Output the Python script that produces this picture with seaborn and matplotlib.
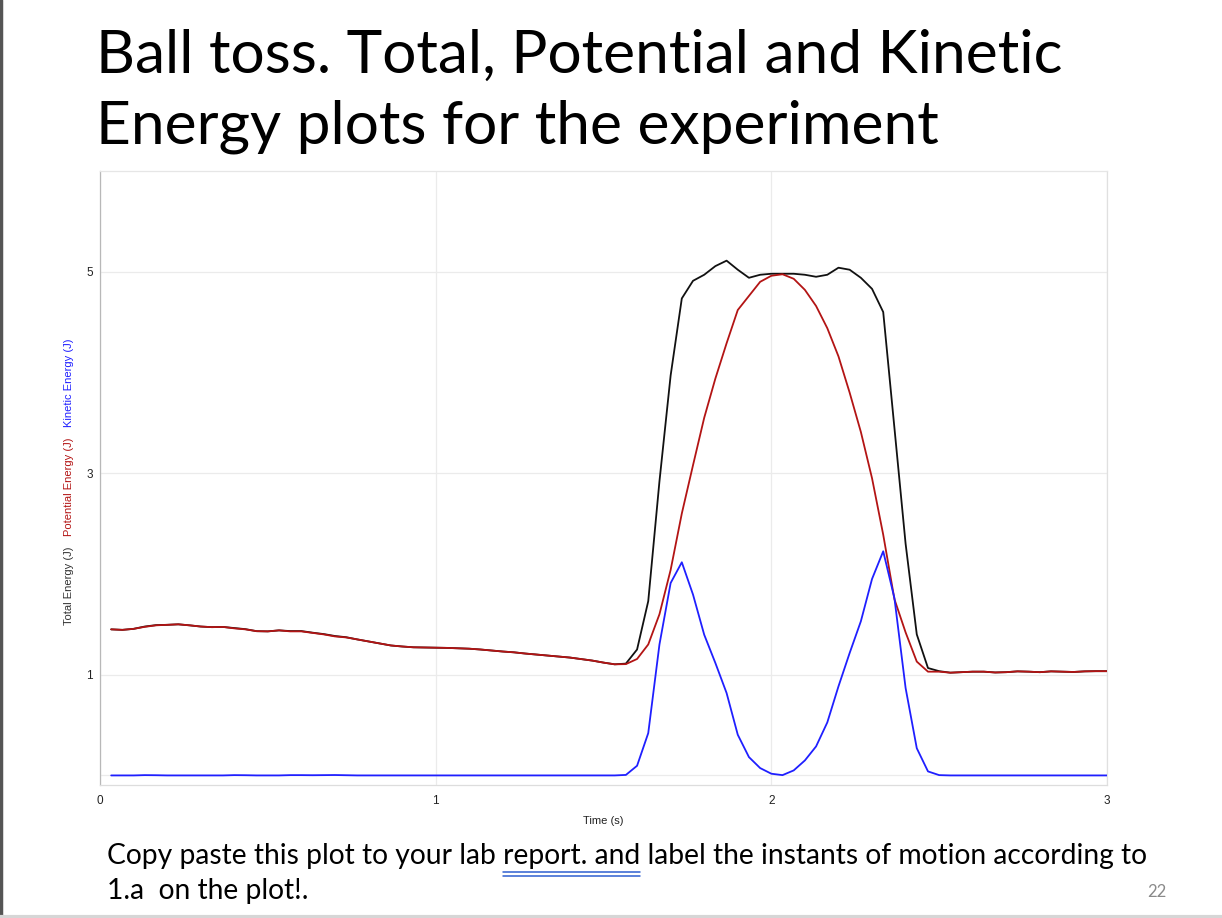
import numpy as np
import pandas as pd
import seaborn as sns
import matplotlib.pyplot as plt
from matplotlib.lines import Line2D

# samples at 30 Hz, t = 1/30 ... 3.0 s
time = np.round(np.arange(1, 91) / 30, 4)

potential = [1.45, 1.445, 1.455, 1.475, 1.49, 1.495, 1.50, 1.49, 1.478, 1.472,
             1.474, 1.46, 1.45, 1.432, 1.43, 1.44, 1.43, 1.43, 1.415, 1.40,
             1.38, 1.37, 1.35, 1.33, 1.31, 1.29, 1.28, 1.272, 1.27, 1.268,
             1.266, 1.262, 1.258, 1.25, 1.24, 1.23, 1.222, 1.21, 1.20, 1.19,
             1.18, 1.17, 1.155, 1.14, 1.12, 1.103, 1.105,
             1.156, 1.30, 1.60, 2.04, 2.60, 3.08, 3.55, 3.94, 4.29, 4.62, 4.76, 4.90, 4.96,
             4.975, 4.93, 4.82, 4.66, 4.44, 4.16, 3.80, 3.41, 2.95, 2.39, 1.75, 1.42, 1.13, 1.03, 1.03,
             1.02, 1.025, 1.03, 1.03, 1.022, 1.025, 1.033, 1.03, 1.025, 1.033, 1.03, 1.027, 1.033, 1.035, 1.035]

kinetic = [0.0, 0.0, 0.0, 0.003, 0.002, 0.0, 0.0, 0.0, 0.0, 0.0,
           0.0, 0.003, 0.002, 0.0, 0.0, 0.0, 0.003, 0.003, 0.002, 0.003,
           0.004, 0.002, 0.0, 0.0, 0.0, 0.0, 0.0, 0.0, 0.0, 0.0,
           0.0, 0.0, 0.0, 0.0, 0.0, 0.0, 0.0, 0.0, 0.0, 0.0,
           0.0, 0.0, 0.0, 0.0, 0.0, 0.0, 0.005,
           0.096, 0.42, 1.30, 1.91, 2.116, 1.795, 1.397, 1.116, 0.818, 0.404, 0.182, 0.073, 0.017,
           0.003, 0.05, 0.149, 0.288, 0.526, 0.884, 1.215, 1.53, 1.95, 2.225, 1.76, 0.868, 0.27, 0.04, 0.003,
           0.0, 0.0, 0.0, 0.0, 0.0, 0.0, 0.0, 0.0, 0.0, 0.0, 0.0, 0.0, 0.0, 0.0, 0.0]

total = [1.45, 1.445, 1.455, 1.478, 1.492, 1.495, 1.50, 1.49, 1.478, 1.472,
         1.474, 1.463, 1.452, 1.432, 1.43, 1.44, 1.433, 1.433, 1.417, 1.403,
         1.384, 1.372, 1.35, 1.33, 1.31, 1.29, 1.28, 1.272, 1.27, 1.268,
         1.266, 1.262, 1.258, 1.25, 1.24, 1.23, 1.222, 1.21, 1.20, 1.19,
         1.18, 1.17, 1.155, 1.14, 1.12, 1.103, 1.11,
         1.25, 1.73, 2.92, 3.97, 4.735, 4.91, 4.97, 5.056, 5.11, 5.02, 4.94, 4.97, 4.98,
         4.98, 4.98, 4.97, 4.95, 4.97, 5.04, 5.02, 4.94, 4.83, 4.60, 3.45, 2.30, 1.40, 1.066, 1.035,
         1.02, 1.025, 1.03, 1.03, 1.022, 1.025, 1.033, 1.03, 1.025, 1.033, 1.03, 1.027, 1.033, 1.035, 1.035]

series_names = ['Total Energy (J)', 'Potential Energy (J)', 'Kinetic Energy (J)']
series_colors = ['#111111', '#b31414', '#1f1fff']

df = pd.concat([
    pd.DataFrame({'time': time, 'energy': total, 'series': series_names[0]}),
    pd.DataFrame({'time': time, 'energy': potential, 'series': series_names[1]}),
    pd.DataFrame({'time': time, 'energy': kinetic, 'series': series_names[2]}),
], ignore_index=True)

sns.set_style('white')
plt.rcParams['font.family'] = ['Liberation Sans', 'DejaVu Sans']
slide_font = ['Lato', 'DejaVu Sans']

W, H = 1222, 918
fig = plt.figure(figsize=(W / 100, H / 100), dpi=100)
ax = fig.add_axes([100 / W, 1 - 785 / H, 1007 / W, 614 / H])

sns.lineplot(data=df, x='time', y='energy', hue='series', hue_order=series_names,
             palette=series_colors, legend=False, lw=1.3, ax=ax, zorder=3)

ax.set_xlim(0, 3)
ax.set_ylim(-0.095, 6.0)
ax.set_xticks([0, 1, 2, 3])
ax.set_xticks([0.2, 0.4, 0.6, 0.8, 1.2, 1.4, 1.6, 1.8, 2.2, 2.4, 2.6, 2.8], minor=True)
ax.set_yticks([0, 1, 3, 5])
ax.set_yticklabels(['', '1', '3', '5'])
ax.set_yticks([2, 4], minor=True)
ax.grid(True, which='major', color='#ebebeb', lw=0.9)
ax.set_axisbelow(True)
ax.tick_params(which='both', length=3, width=0.8, color='#b8b8b8',
               labelsize=8.5, labelcolor='#222222')
ax.tick_params(axis='x', pad=4)
ax.tick_params(axis='y', pad=2)
ax.spines['left'].set_color('#b8b8b8')
ax.spines['bottom'].set_color('#dddddd')
ax.spines['top'].set_color('#e6e6e6')
ax.spines['right'].set_color('#e0e0e0')
for s in ax.spines.values():
    s.set_linewidth(0.9)

ax.set_xlabel('Time (s)', fontsize=8, color='#222222', labelpad=7)
ax.set_ylabel('')

# coloured y-axis label, three parts stacked
for name, col, yc in zip(series_names, ['#333333', '#b31414', '#1f1fff'], [586, 487, 383]):
    fig.text(69 / W, 1 - yc / H, name, rotation=90, ha='center', va='center',
             fontsize=8, color=col)

# slide title
fig.text(96 / W, 1 - 73 / H, 'Ball toss. Total, Potential and Kinetic',
         fontsize=43.5, family=slide_font, va='baseline', color='#000000')
fig.text(96 / W, 1 - 143 / H, 'Energy plots for the experiment',
         fontsize=43.5, family=slide_font, va='baseline', color='#000000')

# slide footer text
fsize = 20.3
line1_pre = 'Copy paste this plot to your lab '
line1_mark = 'report. and'
line1 = line1_pre + line1_mark + ' label the instants of motion according to'
fig.text(107 / W, 1 - 864 / H, line1, fontsize=fsize,
         family=slide_font, va='baseline', color='#000000')
fig.text(107 / W, 1 - 899 / H, '1.a  on the plot!.', fontsize=fsize,
         family=slide_font, va='baseline', color='#000000')
fig.text(1166 / W, 1 - 897 / H, '22', fontsize=12, family=slide_font,
         ha='right', va='baseline', color='#8a8a8a')

# double underline under "report. and"
fig.canvas.draw()
r = fig.canvas.get_renderer()
tmp_a = fig.text(107 / W, 0.5, line1_pre, fontsize=fsize, family=slide_font)
tmp_b = fig.text(107 / W, 0.5, line1_pre + line1_mark, fontsize=fsize, family=slide_font)
xa = tmp_a.get_window_extent(r).x1
xb = tmp_b.get_window_extent(r).x1
tmp_a.remove()
tmp_b.remove()
for yy in [872, 876]:
    fig.add_artist(Line2D([xa / W, xb / W], [1 - yy / H, 1 - yy / H], color='#2f5fd0', lw=1.1))

# slide border
fig.add_artist(Line2D([1 / W, 1 / W], [0, 1], color='#555555', lw=2.5))
fig.add_artist(Line2D([0, 1], [1.5 / H, 1.5 / H], color='#d6d6d6', lw=3))

fig.savefig('out.png', dpi=100)
